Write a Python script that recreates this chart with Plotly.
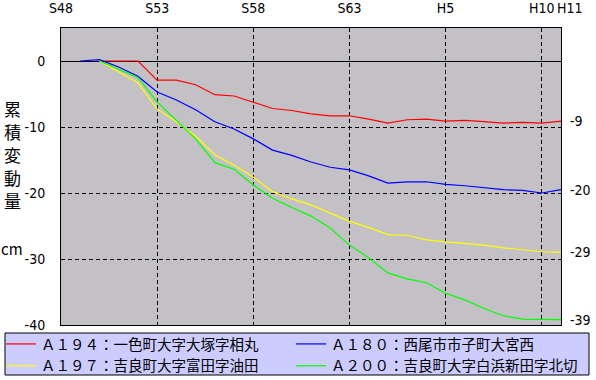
import plotly.graph_objects as go

# ---- data ----
years_a194 = list(range(1975, 2000))
a194 = [0, 0, 0, -2.9, -2.9, -3.6, -5.1, -5.3, -6.3, -7.2, -7.5, -8.0, -8.3, -8.3,
        -8.8, -9.4, -8.9, -8.8, -9.1, -9.0, -9.2, -9.4, -9.3, -9.4, -9.1]

years_a180 = list(range(1974, 2000))
a180 = [0, 0.2, -0.9, -2.3, -4.7, -5.9, -7.4, -9.2, -10.3, -11.8, -13.5, -14.3, -15.3,
        -16.1, -16.5, -17.4, -18.5, -18.3, -18.3, -18.7, -18.9, -19.2, -19.5, -19.6,
        -20.0, -19.5]

years_a197 = list(range(1975, 2000))
a197 = [0, -1.7, -3.3, -7.3, -9.2, -11.4, -14.2, -15.8, -17.6, -19.8, -20.9, -21.8,
        -23.0, -24.3, -25.2, -26.3, -26.4, -27.1, -27.4, -27.6, -27.9, -28.3, -28.6,
        -28.9, -29.0]

years_a200 = list(range(1975, 2000))
a200 = [0, -1.3, -2.5, -6.2, -9.0, -11.8, -15.4, -16.4, -18.8, -20.8, -22.2, -23.5,
        -25.3, -27.9, -29.8, -32.1, -33.0, -33.6, -35.2, -36.2, -37.5, -38.6, -39.1,
        -39.2, -39.2]

names = ["Ａ１９４：一色町大字大塚字相丸", "Ａ１８０：西尾市市子町大宮西",
         "Ａ１９７：吉良町大字富田字油田", "Ａ２００：吉良町大字白浜新田字北切"]
colors = ["#FF0000", "#0000FF", "#FFFF00", "#00FF00"]
legend_ids = ["legend", "legend2", "legend", "legend2"]

top_tickvals = [1973, 1978, 1983, 1988, 1993, 1998, 1999]
top_ticktext = ["S48", "S53", "S58", "S63", "H5", "H10", "H11"]

left_tickvals = [0, -10, -20, -30, -40]
left_ticktext = ["0", "-10", "-20", "-30", "-40"]

right_ticktext = ["-9", "-20", "-29", "-39"]

y_title_chars = ["累", "積", "変", "動", "量"]
y_unit = "cm"

# ---- figure ----
W, H = 596, 380
ML, MR, MT, MB = 61, 35, 28, 55
PW, PH = W - ML - MR, H - MT - MB

def px_x(p):
    return (p - ML) / PW

def px_y(p):
    return (H - MB - p) / PH

fig = go.Figure()
series = [(years_a194, a194), (years_a180, a180), (years_a197, a197), (years_a200, a200)]
for (xs, ys), nm, c, lg in zip(series, names, colors, legend_ids):
    fig.add_trace(go.Scatter(x=xs, y=ys, mode="lines", name=nm, legend=lg,
                             line=dict(color=c, width=1.2), hoverinfo="skip"))

finals = [s[1][-1] for s in series]
fig.add_trace(go.Scatter(x=[1999] * 4, y=finals, yaxis="y2", mode="markers",
                         marker=dict(opacity=0), showlegend=False, hoverinfo="skip"))

tick_font = dict(family="Liberation Sans Narrow, DejaVu Sans Condensed, Noto Sans", size=14, color="black")
legend_font = dict(family="Noto Sans CJK JP", size=14.5, color="black")

annotations = [
    dict(text=top_ticktext[-1], x=top_tickvals[-1], xref="x", y=px_y(8), yref="paper",
         xshift=9, showarrow=False, font=tick_font, xanchor="center", yanchor="middle"),
    dict(text=y_unit, x=px_x(12), y=px_y(248), xref="paper", yref="paper",
         showarrow=False, font=dict(family="Noto Sans CJK JP", size=15, color="black"),
         xanchor="center", yanchor="middle"),
]
for i, ch in enumerate(y_title_chars):
    annotations.append(dict(text=ch, x=px_x(12), y=px_y(108 + 23.2 * i), xref="paper", yref="paper",
                            showarrow=False, font=dict(family="Noto Sans CJK JP", size=17, color="black"),
                            xanchor="center", yanchor="middle"))

fig.update_layout(
    width=W, height=H,
    margin=dict(l=ML, r=MR, t=MT, b=MB, pad=0, autoexpand=False),
    paper_bgcolor="white",
    plot_bgcolor="#C3C1C5",
    showlegend=True,
    xaxis=dict(range=[1973, 1999], side="top",
               tickvals=top_tickvals[:-1], ticktext=top_ticktext[:-1],
               ticks="", ticklabelstandoff=8, tickfont=tick_font,
               showgrid=True, gridcolor="black", gridwidth=1, griddash="4px,3px",
               showline=True, linecolor="black", linewidth=1, mirror=True,
               zeroline=False, fixedrange=True),
    yaxis=dict(range=[-40, 5], tickvals=left_tickvals, ticktext=left_ticktext,
               ticks="", ticklabelstandoff=12, tickfont=tick_font,
               showgrid=True, gridcolor="black", gridwidth=1, griddash="4px,3px",
               zeroline=True, zerolinecolor="black", zerolinewidth=1.3,
               showline=True, linecolor="black", linewidth=1, mirror=True,
               fixedrange=True),
    yaxis2=dict(range=[-40, 5], overlaying="y", side="right",
                tickvals=finals, ticktext=right_ticktext,
                ticks="", ticklabelstandoff=8, tickfont=tick_font,
                showgrid=False, zeroline=False, showline=False, fixedrange=True),
    legend=dict(orientation="v", x=px_x(1), y=px_y(328), xanchor="left", yanchor="top",
                bgcolor="rgba(0,0,0,0)", borderwidth=0,
                font=legend_font, itemwidth=30, tracegroupgap=0),
    legend2=dict(orientation="v", x=px_x(291), y=px_y(328), xanchor="left", yanchor="top",
                 bgcolor="rgba(0,0,0,0)", borderwidth=0,
                 font=legend_font, itemwidth=30, tracegroupgap=0),
    shapes=[dict(type="rect", xref="paper", yref="paper",
                 x0=px_x(5), x1=px_x(589), y0=px_y(333), y1=px_y(375),
                 fillcolor="#CCCCFF", line=dict(color="black", width=1), layer="below")],
    annotations=annotations,
)

fig.write_html("out.html")
